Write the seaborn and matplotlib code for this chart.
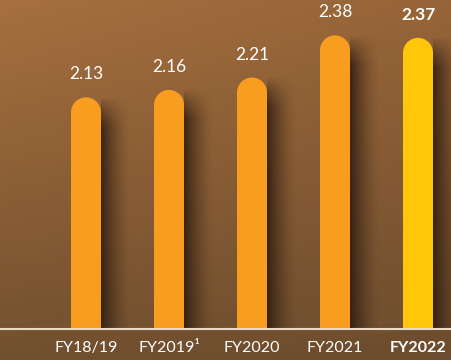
import numpy as np
import pandas as pd
import matplotlib
matplotlib.use("Agg")
import matplotlib.pyplot as plt
import seaborn as sns
from matplotlib.patches import Ellipse

years = ["FY18/19", "FY2019¹", "FY2020", "FY2021", "FY2022"]
values = [2.13, 2.16, 2.21, 2.38, 2.37]
labels = ["2.13", "2.16", "2.21", "2.38", "2.37"]
colors = ["#F89D1F", "#F89D1F", "#F89D1F", "#F89D1F", "#FFC60A"]

sns.set_theme(style="white")
plt.rcParams['font.family'] = ['Lato', 'DejaVu Sans']

fig = plt.figure(figsize=(4.51, 3.6), dpi=100)
ax = fig.add_axes([0, 0, 1, 1])

# axis geometry
px_per_x = 83.0
px_per_y = 248.0
base = 1.2
xlim = (-86 / px_per_x, 4 + (451 - 418) / px_per_x)
ylim = (base - 32 / px_per_y, base + 328 / px_per_y)

# background gradient
H, W = 200, 250
yy, xx = np.mgrid[0:1:H*1j, 0:1:W*1j]
c_tl = np.array([166, 112, 62]) / 255
c_tr = np.array([150, 100, 56]) / 255
c_bl = np.array([114, 80, 47]) / 255
c_br = np.array([108, 76, 46]) / 255
img = (c_tl[None, None] * ((1 - xx) * (1 - yy))[..., None]
       + c_tr[None, None] * (xx * (1 - yy))[..., None]
       + c_bl[None, None] * ((1 - xx) * yy)[..., None]
       + c_br[None, None] * (xx * yy)[..., None])
ax.imshow(img, extent=[xlim[0], xlim[1], ylim[0], ylim[1]], aspect='auto', zorder=0, origin='upper')

df = pd.DataFrame({"year": years, "value": [v - base for v in values]})
sns.barplot(data=df, x="year", y="value", hue="year", palette=colors, legend=False,
            width=30 / px_per_x, bottom=base, ax=ax, saturation=1, zorder=3)

ry = 15 / px_per_y
rx = 15 / px_per_x
for i, p in enumerate(ax.patches):
    h = p.get_height()
    p.set_height(h - ry)
    p.set_linewidth(0)
    top = base + h
    xc = p.get_x() + p.get_width() / 2
    ax.add_patch(Ellipse((xc, top - ry), 2 * rx, 2 * ry, color=p.get_facecolor(), lw=0, zorder=3))
    # soft shadow to the right
    sw = 30 / px_per_x
    nx, ny = 60, 200
    gx = np.linspace(0, 1, nx)[None, :]
    hpx = h * px_per_y
    gy = np.linspace(0, hpx, ny)[:, None]  # px from top of shadow
    vfade = np.clip(gy / 30.0, 0, 1) ** 0.8
    alpha = 0.8 * (1 - gx) ** 1.5 * vfade
    sh = np.zeros((ny, nx, 4))
    sh[..., 0] = 0.15; sh[..., 1] = 0.09; sh[..., 2] = 0.05
    sh[..., 3] = alpha
    x0 = p.get_x() + p.get_width()
    ax.imshow(sh, extent=[x0, x0 + sw, base, top], aspect='auto', zorder=2,
              interpolation='bilinear', origin='upper')
    ax.text(xc, top + 23 / px_per_y, labels[i], ha='center', va='center', color='white',
            fontsize=12.5, fontweight='bold' if i == 4 else 'normal', zorder=5)

ax.axhline(base - 1 / px_per_y, color='#E8DCC8', lw=1.5, zorder=4)

for i, y in enumerate(years):
    ax.text(i, base - 20 / px_per_y, y, ha='center', va='center', color='white',
            fontsize=11.5, fontweight='bold' if i == 4 else 'normal', zorder=5)

ax.set_xlim(*xlim)
ax.set_ylim(*ylim)
ax.set_axis_off()
fig.savefig("out.png", dpi=100)
